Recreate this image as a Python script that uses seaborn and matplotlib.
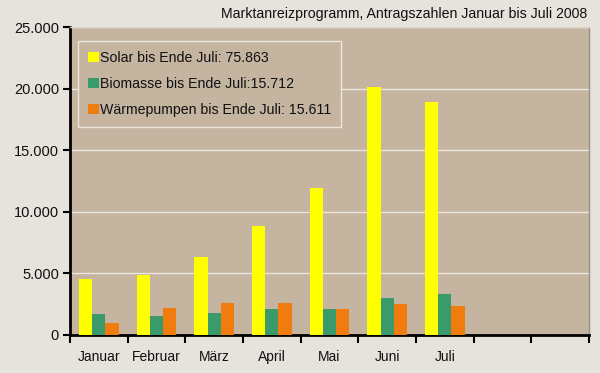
import matplotlib
matplotlib.use("Agg")
import matplotlib.pyplot as plt
import seaborn as sns
import pandas as pd
from matplotlib.patches import Patch
from matplotlib.ticker import FuncFormatter, FixedLocator

months = ["Januar", "Februar", "März", "April", "Mai", "Juni", "Juli"]
solar = [4550, 4900, 6350, 8850, 11900, 20150, 18950]
biomasse = [1720, 1560, 1780, 2080, 2080, 3030, 3330]
waerme = [990, 2210, 2600, 2600, 2140, 2520, 2380]
series_labels = ["Solar bis Ende Juli: 75.863",
                 "Biomasse bis Ende Juli:15.712",
                 "Wärmepumpen bis Ende Juli: 15.611"]
series_names = ["Solar", "Biomasse", "Wärmepumpen"]
colors = ["#ffff00", "#3a9a6a", "#f07c10"]
n_slots = 9
title = "Marktanreizprogramm, Antragszahlen Januar bis Juli 2008"

rows = []
for name, vals in zip(series_names, [solar, biomasse, waerme]):
    for m, v in zip(months, vals):
        rows.append({"Monat": m, "Serie": name, "Wert": v})
df = pd.DataFrame(rows)

sns.set_theme(style="white")
plt.rcParams['font.family'] = ['Liberation Sans', 'DejaVu Sans']

fig = plt.figure(figsize=(6, 3.73), dpi=100, facecolor="#e6e2dc")
ax = fig.add_axes([0.1167, 0.1019, 0.865, 0.8257])
ax.set_facecolor("#c4b4a0")

sns.barplot(data=df, x="Monat", y="Wert", hue="Serie", order=months,
            hue_order=series_names, palette=colors, width=0.69,
            saturation=1, ax=ax, legend=False, zorder=3, linewidth=0,
            edgecolor="none")

ax.set_xlim(-0.5, n_slots - 0.5)
ax.set_ylim(0, 25000)
ax.set_yticks(range(0, 25001, 5000))
ax.yaxis.set_major_formatter(FuncFormatter(lambda v, p: f"{int(v):,}".replace(",", ".")))
ax.grid(axis="y", color="#ece6dc", linewidth=1, zorder=0)
ax.set_axisbelow(True)

ax.set_xticks(range(len(months)))
ax.set_xticklabels(months)
ax.xaxis.set_minor_locator(FixedLocator([i - 0.5 for i in range(n_slots + 1)]))
ax.tick_params(axis="x", which="major", length=0, pad=11, labelsize=10, colors="#111111")
ax.tick_params(axis="x", which="minor", length=6, width=1.5, direction="out", color="black", bottom=True)
ax.tick_params(axis="y", which="major", length=5, width=1.5, direction="out", color="black", left=True, labelsize=10.5, pad=3, labelcolor="#111111")
ax.set_xlabel("")
ax.set_ylabel("")

for s in ["left", "bottom"]:
    ax.spines[s].set_color("black")
    ax.spines[s].set_linewidth(2)
ax.spines["right"].set_color("#9a9088")
ax.spines["right"].set_linewidth(1)
ax.spines["top"].set_color("#e0d8cc")
ax.spines["top"].set_linewidth(1)

handles = [Patch(facecolor=c, edgecolor="none") for c in colors]
leg = ax.legend(handles, series_labels, loc="upper left", bbox_to_anchor=(0.016, 0.955),
                fontsize=10.2, frameon=True, fancybox=False, handlelength=0.74,
                handleheight=0.74, handletextpad=0.1, labelspacing=0.85,
                borderpad=0.7, borderaxespad=0)
leg.get_frame().set_facecolor("#c4b4a0")
leg.get_frame().set_edgecolor("#ece6dc")
leg.get_frame().set_linewidth(1)
leg.get_frame().set_alpha(1)
for t in leg.get_texts():
    t.set_color("#111111")

fig.text(0.978, 0.962, title, ha="right", va="center", fontsize=10.2, color="#111111")

fig.savefig("out.png", dpi=100, facecolor=fig.get_facecolor())
